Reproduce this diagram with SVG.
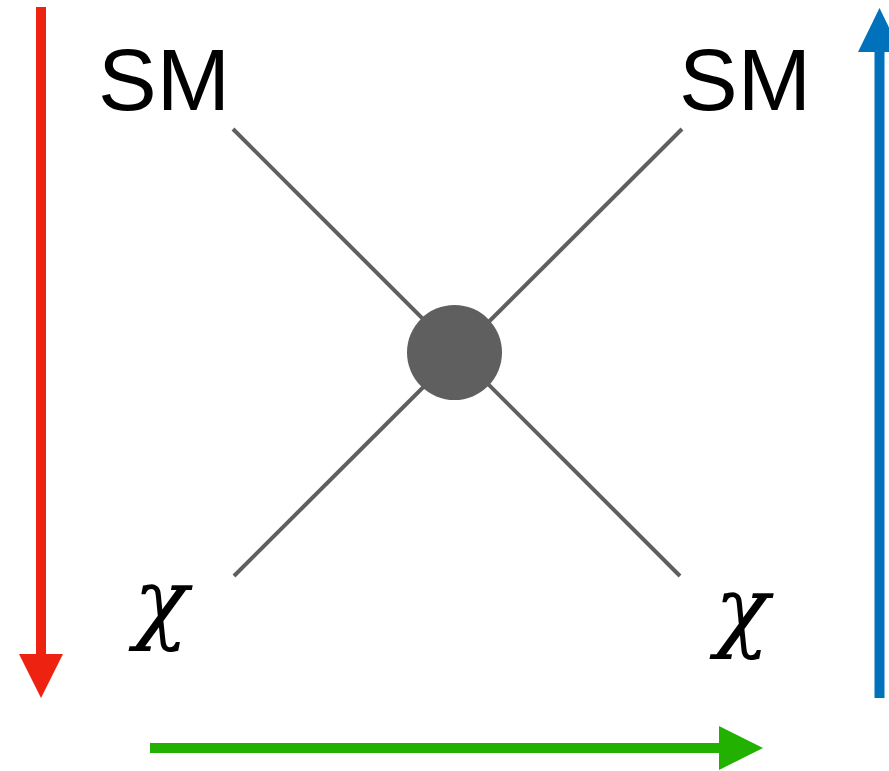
<svg xmlns="http://www.w3.org/2000/svg" width="889" height="771" viewBox="0 0 889 771">
<style>
.leg{stroke:#5f5f5f;stroke-width:4;fill:none}
.sm{font-family:"Liberation Sans",Arial,sans-serif;font-size:88px;fill:#000;text-anchor:middle}
.chi{font-family:"DejaVu Serif",serif;font-style:italic;font-size:90px;fill:#000;text-anchor:middle}
</style>
<rect width="889" height="771" fill="#fff"/>
<g id="connectors">
<line class="leg" x1="233" y1="129" x2="680" y2="576"/>
<line class="leg" x1="682" y1="129" x2="234" y2="576"/>
</g>
<g id="vertex"><circle cx="454.5" cy="352.5" r="47.5" fill="#5f5f5f"/></g>
<g id="sm-left"><text class="sm" x="164" y="110">SM</text></g>
<g id="sm-right"><text class="sm" x="745" y="110">SM</text></g>
<g id="chi-left"><text class="chi" x="161" y="632">χ</text></g>
<g id="chi-right"><text class="chi" x="742" y="640">χ</text></g>
<g id="arrow-red">
<line x1="41" y1="7" x2="41" y2="656" stroke="#ee2211" stroke-width="10"/>
<polygon points="19,654 63,654 41,698" fill="#ee2211"/>
</g>
<g id="arrow-blue">
<line x1="879.5" y1="50" x2="879.5" y2="698" stroke="#0072bb" stroke-width="10"/>
<polygon points="879.5,8 901,52 858,52" fill="#0072bb"/>
</g>
<g id="arrow-green">
<line x1="150" y1="748" x2="721" y2="748" stroke="#22b100" stroke-width="10"/>
<polygon points="719,726 763,748 719,770" fill="#22b100"/>
</g>
</svg>
